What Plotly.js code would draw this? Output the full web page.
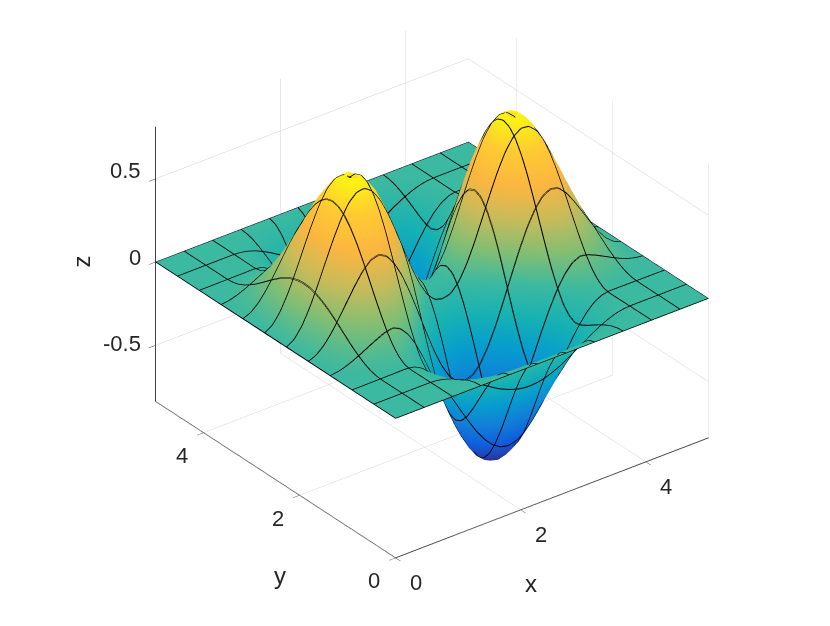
<!DOCTYPE html>
<html><head><meta charset="utf-8">
<script src="https://cdn.plot.ly/plotly-3.0.1.min.js"></script>
<style>html,body{margin:0;padding:0;background:#fff}#c{width:830px;height:626px}</style></head>
<body><div id="c"></div>
<script>
const xValues=[0,.125,.25,.375,.5,.625,.75,.875,1,1.125,1.25,1.375,1.5,1.625,1.75,1.875,2,2.125,2.25,2.375,2.5,2.625,2.75,2.875,3,3.125,3.25,3.375,3.5,3.625,3.75,3.875,4,4.125,4.25,4.375,4.5,4.625,4.75,4.875,5];
const yValues=[0,.125,.25,.375,.5,.625,.75,.875,1,1.125,1.25,1.375,1.5,1.625,1.75,1.875,2,2.125,2.25,2.375,2.5,2.625,2.75,2.875,3,3.125,3.25,3.375,3.5,3.625,3.75,3.875,4,4.125,4.25,4.375,4.5,4.625,4.75,4.875,5];
const zValues=[
[0,0,0,0,0,0,0,0,0,0,0,0,0,0,0,0,0,0,0,0,0,0,0,0,0,0,0,0,0,0,0,0,0,0,0,0,0,0,0,0,0],
[0,0,0,0,0,0,0,0,0,-.001,-.002,-.004,-.006,-.009,-.011,-.013,-.016,-.017,-.019,-.02,-.02,-.02,-.019,-.017,-.016,-.013,-.011,-.009,-.006,-.004,-.002,-.001,0,0,0,0,0,0,0,0,0],
[0,0,0,0,0,0,0,0,-.001,-.004,-.009,-.016,-.025,-.034,-.044,-.053,-.062,-.07,-.075,-.079,-.08,-.079,-.075,-.07,-.062,-.053,-.044,-.034,-.025,-.016,-.009,-.004,-.001,0,0,0,0,0,0,0,0],
[0,0,0,0,0,0,0,0,-.002,-.008,-.02,-.035,-.053,-.074,-.095,-.115,-.135,-.151,-.163,-.17,-.173,-.17,-.163,-.151,-.135,-.115,-.095,-.074,-.053,-.035,-.02,-.008,-.002,0,0,0,0,0,0,0,0],
[0,0,0,0,0,0,0,0,-.003,-.014,-.033,-.059,-.09,-.124,-.159,-.193,-.226,-.252,-.273,-.286,-.29,-.286,-.273,-.252,-.226,-.193,-.159,-.124,-.09,-.059,-.033,-.014,-.003,0,0,0,0,0,0,0,0],
[0,0,0,0,0,0,0,0,-.004,-.02,-.047,-.085,-.13,-.179,-.231,-.28,-.327,-.365,-.395,-.414,-.42,-.414,-.395,-.365,-.327,-.28,-.231,-.179,-.13,-.085,-.047,-.02,-.004,0,0,0,0,0,0,0,0],
[0,0,0,0,0,0,0,0,-.006,-.026,-.062,-.112,-.17,-.235,-.302,-.367,-.428,-.479,-.518,-.542,-.55,-.542,-.518,-.479,-.428,-.367,-.302,-.235,-.17,-.112,-.062,-.026,-.006,0,0,0,0,0,0,0,0],
[0,0,0,0,0,0,0,0,-.007,-.032,-.075,-.135,-.206,-.285,-.366,-.445,-.519,-.58,-.628,-.657,-.667,-.657,-.628,-.58,-.519,-.445,-.366,-.285,-.206,-.135,-.075,-.032,-.007,0,0,0,0,0,0,0,0],
[0,0,.001,.002,.003,.004,.006,.007,-.001,-.028,-.078,-.146,-.228,-.319,-.412,-.503,-.589,-.66,-.714,-.749,-.76,-.749,-.714,-.66,-.589,-.503,-.412,-.319,-.228,-.146,-.078,-.028,-.001,.007,.006,.004,.003,.002,.001,0,0],
[0,.002,.005,.009,.015,.021,.028,.033,.029,0,-.053,-.128,-.218,-.32,-.425,-.529,-.626,-.706,-.769,-.807,-.82,-.807,-.769,-.706,-.626,-.529,-.425,-.32,-.218,-.128,-.053,0,.029,.033,.028,.021,.015,.009,.005,.002,0],
[0,.004,.011,.022,.036,.05,.064,.077,.078,.052,-.002,-.082,-.178,-.288,-.404,-.517,-.625,-.715,-.783,-.826,-.84,-.826,-.783,-.715,-.625,-.517,-.404,-.288,-.178,-.082,-.002,.052,.078,.077,.064,.05,.036,.022,.011,.004,0],
[0,.006,.02,.04,.064,.09,.115,.137,.147,.126,.074,-.005,-.106,-.223,-.347,-.47,-.586,-.684,-.76,-.806,-.82,-.806,-.76,-.684,-.586,-.47,-.347,-.223,-.106,-.005,.074,.126,.147,.137,.115,.09,.064,.04,.02,.006,0],
[0,.01,.03,.06,.097,.137,.176,.21,.228,.215,.169,.091,-.01,-.131,-.259,-.389,-.512,-.616,-.696,-.745,-.76,-.745,-.696,-.616,-.512,-.389,-.259,-.131,-.01,.091,.169,.215,.228,.21,.176,.137,.097,.06,.03,.01,0],
[0,.013,.042,.083,.134,.189,.243,.29,.319,.315,.277,.204,.104,-.017,-.148,-.282,-.41,-.518,-.602,-.652,-.667,-.652,-.602,-.518,-.41,-.282,-.148,-.017,.104,.204,.277,.315,.319,.29,.243,.189,.134,.083,.042,.013,0],
[0,.017,.054,.107,.173,.243,.312,.373,.413,.421,.391,.324,.23,.11,-.022,-.158,-.288,-.399,-.484,-.536,-.55,-.536,-.484,-.399,-.288,-.158,-.022,.11,.23,.324,.391,.421,.413,.373,.312,.243,.173,.107,.054,.017,0],
[0,.021,.065,.13,.21,.295,.379,.453,.505,.522,.502,.444,.355,.24,.109,-.026,-.156,-.268,-.354,-.406,-.42,-.406,-.354,-.268,-.156,-.026,.109,.24,.355,.444,.502,.522,.505,.453,.379,.295,.21,.13,.065,.021,0],
[0,.024,.076,.152,.245,.345,.442,.528,.591,.619,.608,.559,.476,.365,.238,.104,-.027,-.139,-.225,-.277,-.29,-.277,-.225,-.139,-.027,.104,.238,.365,.476,.559,.608,.619,.591,.528,.442,.345,.245,.152,.076,.024,0],
[0,.027,.085,.17,.274,.386,.495,.591,.663,.7,.697,.656,.58,.473,.349,.217,.088,-.025,-.11,-.16,-.173,-.16,-.11,-.025,.088,.217,.349,.473,.58,.656,.697,.7,.663,.591,.495,.386,.274,.17,.085,.027,0],
[0,.029,.092,.184,.296,.417,.535,.639,.718,.761,.766,.731,.659,.557,.436,.306,.179,.067,-.018,-.068,-.08,-.068,-.018,.067,.179,.306,.436,.557,.659,.731,.766,.761,.718,.639,.535,.417,.296,.184,.092,.029,0],
[0,.031,.097,.193,.311,.437,.56,.669,.753,.801,.81,.778,.711,.611,.491,.363,.236,.126,.041,-.009,-.02,-.009,.041,.126,.236,.363,.491,.611,.711,.778,.81,.801,.753,.669,.56,.437,.311,.193,.097,.031,0],
[0,.031,.098,.196,.315,.443,.568,.679,.764,.813,.824,.794,.728,.629,.51,.381,.256,.145,.061,.012,0,.012,.061,.145,.256,.381,.51,.629,.728,.794,.824,.813,.764,.679,.568,.443,.315,.196,.098,.031,0],
[0,.031,.097,.193,.311,.437,.56,.669,.753,.801,.81,.778,.711,.611,.491,.363,.236,.126,.041,-.009,-.02,-.009,.041,.126,.236,.363,.491,.611,.711,.778,.81,.801,.753,.669,.56,.437,.311,.193,.097,.031,0],
[0,.029,.092,.184,.296,.417,.535,.639,.718,.761,.766,.731,.659,.557,.436,.306,.179,.067,-.018,-.068,-.08,-.068,-.018,.067,.179,.306,.436,.557,.659,.731,.766,.761,.718,.639,.535,.417,.296,.184,.092,.029,0],
[0,.027,.085,.17,.274,.386,.495,.591,.663,.7,.697,.656,.58,.473,.349,.217,.088,-.025,-.11,-.16,-.173,-.16,-.11,-.025,.088,.217,.349,.473,.58,.656,.697,.7,.663,.591,.495,.386,.274,.17,.085,.027,0],
[0,.024,.076,.152,.245,.345,.442,.528,.591,.619,.608,.559,.476,.365,.238,.104,-.027,-.139,-.225,-.277,-.29,-.277,-.225,-.139,-.027,.104,.238,.365,.476,.559,.608,.619,.591,.528,.442,.345,.245,.152,.076,.024,0],
[0,.021,.065,.13,.21,.295,.379,.453,.505,.522,.502,.444,.355,.24,.109,-.026,-.156,-.268,-.354,-.406,-.42,-.406,-.354,-.268,-.156,-.026,.109,.24,.355,.444,.502,.522,.505,.453,.379,.295,.21,.13,.065,.021,0],
[0,.017,.054,.107,.173,.243,.312,.373,.413,.421,.391,.324,.23,.11,-.022,-.158,-.288,-.399,-.484,-.536,-.55,-.536,-.484,-.399,-.288,-.158,-.022,.11,.23,.324,.391,.421,.413,.373,.312,.243,.173,.107,.054,.017,0],
[0,.013,.042,.083,.134,.189,.243,.29,.319,.315,.277,.204,.104,-.017,-.148,-.282,-.41,-.518,-.602,-.652,-.667,-.652,-.602,-.518,-.41,-.282,-.148,-.017,.104,.204,.277,.315,.319,.29,.243,.189,.134,.083,.042,.013,0],
[0,.01,.03,.06,.097,.137,.176,.21,.228,.215,.169,.091,-.01,-.131,-.259,-.389,-.512,-.616,-.696,-.745,-.76,-.745,-.696,-.616,-.512,-.389,-.259,-.131,-.01,.091,.169,.215,.228,.21,.176,.137,.097,.06,.03,.01,0],
[0,.006,.02,.04,.064,.09,.115,.137,.147,.126,.074,-.005,-.106,-.223,-.347,-.47,-.586,-.684,-.76,-.806,-.82,-.806,-.76,-.684,-.586,-.47,-.347,-.223,-.106,-.005,.074,.126,.147,.137,.115,.09,.064,.04,.02,.006,0],
[0,.004,.011,.022,.036,.05,.064,.077,.078,.052,-.002,-.082,-.178,-.288,-.404,-.517,-.625,-.715,-.783,-.826,-.84,-.826,-.783,-.715,-.625,-.517,-.404,-.288,-.178,-.082,-.002,.052,.078,.077,.064,.05,.036,.022,.011,.004,0],
[0,.002,.005,.009,.015,.021,.028,.033,.029,0,-.053,-.128,-.218,-.32,-.425,-.529,-.626,-.706,-.769,-.807,-.82,-.807,-.769,-.706,-.626,-.529,-.425,-.32,-.218,-.128,-.053,0,.029,.033,.028,.021,.015,.009,.005,.002,0],
[0,0,.001,.002,.003,.004,.006,.007,-.001,-.028,-.078,-.146,-.228,-.319,-.412,-.503,-.589,-.66,-.714,-.749,-.76,-.749,-.714,-.66,-.589,-.503,-.412,-.319,-.228,-.146,-.078,-.028,-.001,.007,.006,.004,.003,.002,.001,0,0],
[0,0,0,0,0,0,0,0,-.007,-.032,-.075,-.135,-.206,-.285,-.366,-.445,-.519,-.58,-.628,-.657,-.667,-.657,-.628,-.58,-.519,-.445,-.366,-.285,-.206,-.135,-.075,-.032,-.007,0,0,0,0,0,0,0,0],
[0,0,0,0,0,0,0,0,-.006,-.026,-.062,-.112,-.17,-.235,-.302,-.367,-.428,-.479,-.518,-.542,-.55,-.542,-.518,-.479,-.428,-.367,-.302,-.235,-.17,-.112,-.062,-.026,-.006,0,0,0,0,0,0,0,0],
[0,0,0,0,0,0,0,0,-.004,-.02,-.047,-.085,-.13,-.179,-.231,-.28,-.327,-.365,-.395,-.414,-.42,-.414,-.395,-.365,-.327,-.28,-.231,-.179,-.13,-.085,-.047,-.02,-.004,0,0,0,0,0,0,0,0],
[0,0,0,0,0,0,0,0,-.003,-.014,-.033,-.059,-.09,-.124,-.159,-.193,-.226,-.252,-.273,-.286,-.29,-.286,-.273,-.252,-.226,-.193,-.159,-.124,-.09,-.059,-.033,-.014,-.003,0,0,0,0,0,0,0,0],
[0,0,0,0,0,0,0,0,-.002,-.008,-.02,-.035,-.053,-.074,-.095,-.115,-.135,-.151,-.163,-.17,-.173,-.17,-.163,-.151,-.135,-.115,-.095,-.074,-.053,-.035,-.02,-.008,-.002,0,0,0,0,0,0,0,0],
[0,0,0,0,0,0,0,0,-.001,-.004,-.009,-.016,-.025,-.034,-.044,-.053,-.062,-.07,-.075,-.079,-.08,-.079,-.075,-.07,-.062,-.053,-.044,-.034,-.025,-.016,-.009,-.004,-.001,0,0,0,0,0,0,0,0],
[0,0,0,0,0,0,0,0,0,-.001,-.002,-.004,-.006,-.009,-.011,-.013,-.016,-.017,-.019,-.02,-.02,-.02,-.019,-.017,-.016,-.013,-.011,-.009,-.006,-.004,-.002,-.001,0,0,0,0,0,0,0,0,0],
[0,0,0,0,0,0,0,0,0,0,0,0,0,0,0,0,0,0,0,0,0,0,0,0,0,0,0,0,0,0,0,0,0,0,0,0,0,0,0,0,0]
];
const xTicks=[0,2,4], yTicks=[0,2,4], zTicks=[-0.5,0,0.5];
const zRange=[-.837,.813];
const labelZ=-.83;
const parula=[[0,'rgb(53,42,135)'],[.1,'rgb(15,92,221)'],[.2,'rgb(18,125,216)'],[.3,'rgb(7,156,207)'],[.4,'rgb(21,177,180)'],[.5,'rgb(60,185,160)'],[.6,'rgb(130,190,115)'],[.7,'rgb(200,187,90)'],[.8,'rgb(250,182,65)'],[.9,'rgb(254,203,50)'],[1,'rgb(249,251,14)']];
const txt='#262626', fam='Liberation Sans, Arial';
function axis(range,tickvals){return {title:{text:''},range:range,tickvals:tickvals,showticklabels:false,showgrid:true,gridcolor:'#cfcfcf',gridwidth:1,showline:true,linecolor:'#444',linewidth:2,ticks:'outside',ticklen:8,tickcolor:'#444',tickwidth:1,zeroline:false,showbackground:false,showspikes:false,autorange:false};}
function note(x,y,z,text,xs,ys,size,extra){return Object.assign({x:x,y:y,z:z,text:text,showarrow:false,xshift:xs,yshift:ys,font:{family:fam,size:size,color:txt}},extra||{});}
const annotations=[].concat(
 xTicks.map(v=>note(v,0,labelZ,String(v),20,-26,22)),
 yTicks.map(v=>note(0,v,labelZ,String(v),-22,-24,22)),
 zTicks.map(v=>note(0,5,v,String(v),-13,5+6*v,22,{xanchor:'right'})),
 [note(2.5,0,labelZ,'x',-21,-87,24),note(0,2.5,labelZ,'y',4,-97,24),note(0,5,0,'z',-74,0,24,{textangle:-90})]
);
const lines=(s)=>({show:true,start:s,end:5,size:5/11,color:'#000',width:1,highlight:false});
const trace={type:'surface',x:xValues,y:yValues,z:zValues,colorscale:parula,cmin:-.84,cmax:.84,showscale:false,hoverinfo:'skip',
 lighting:{ambient:1,diffuse:0,specular:0,roughness:1,fresnel:0},
 contours:{x:lines(0),y:lines(0),z:{highlight:false}}};
const mesh2={type:'surface',x:xValues,y:yValues,z:zValues,hidesurface:true,colorscale:parula,cmin:-.84,cmax:.84,showscale:false,hoverinfo:'skip',
 lighting:{ambient:1,diffuse:0,specular:0,roughness:1,fresnel:0},
 contours:{x:lines(.006),y:lines(.006),z:{highlight:false}}};
const layout={width:830,height:626,margin:{l:0,r:0,t:0,b:0},paper_bgcolor:'#fff',showlegend:false,
 scene:{domain:{x:[0,1],y:[0,1]},aspectmode:'manual',aspectratio:{x:1.26,y:1.26,z:1.0134},annotations:annotations,
  camera:{projection:{type:'orthographic'},up:{x:0,y:0,z:1},center:{x:-.073,y:-.0059,z:-.085},eye:{x:-1.3906,y:-1.7232,z:1.165}},
  xaxis:axis([0,5],xTicks),yaxis:axis([0,5],yTicks),zaxis:axis(zRange,zTicks)}};
Plotly.newPlot('c',[trace,mesh2],layout,{displayModeBar:false});
</script></body></html>
